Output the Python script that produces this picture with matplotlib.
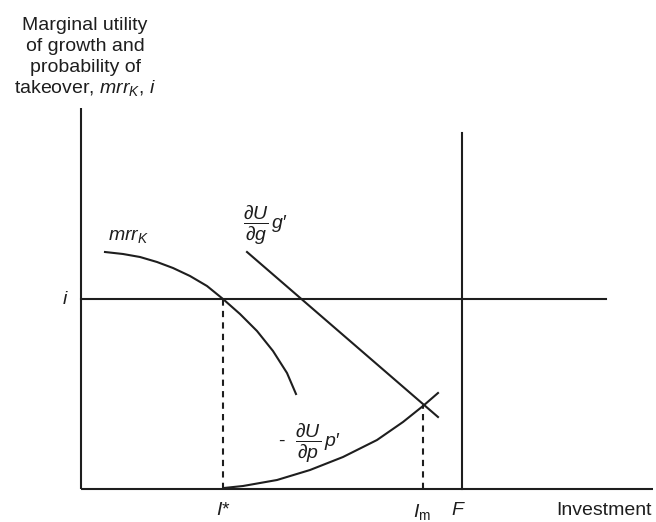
import matplotlib
matplotlib.use("Agg")
import matplotlib.pyplot as plt
import numpy as np

plt.rcParams['font.family'] = ['Liberation Sans', 'DejaVu Sans']
plt.rcParams['mathtext.fontset'] = 'custom'
plt.rcParams['mathtext.rm'] = 'Liberation Sans'
plt.rcParams['mathtext.it'] = 'Liberation Sans:italic'
plt.rcParams['mathtext.bf'] = 'Liberation Sans:bold'

# axis extents (investment, utility) in drawing units
x_max = 572
y_max = 381
interest = 190          # level of i
I_star = 142
I_m = 342
F = 381
F_top = 356
i_right = 525

# mrr_K curve
mrr_x = [24, 42, 59, 76, 92, 109, 126, 142, 159, 176, 192, 206, 215]
mrr_y = [237, 235, 232, 227, 221, 213, 203, 190, 175, 158, 138, 116, 95]

# dU/dg g' line
g_x = [166, 357]
g_y = [237, 72]

# -dU/dp p' curve
p_x = [143, 162, 196, 229, 262, 296, 322, 342, 357]
p_y = [1, 3, 9, 19, 32, 49, 67, 83, 96]

fig = plt.figure(figsize=(6.56, 5.22), dpi=100)
ax = fig.add_axes([0, 0, 1, 1])
ax.set_xlim(-81, 575)
ax.set_ylim(-33, 489)
ax.axis('off')

ink = '#1e1e1e'
lw = 1.5
# axes
ax.plot([0, x_max], [0, 0], color=ink, lw=lw, solid_capstyle='butt')
ax.plot([0, 0], [0, y_max], color=ink, lw=lw, solid_capstyle='butt')
# i line and F line
ax.plot([0, i_right], [interest, interest], color=ink, lw=lw)
ax.plot([F, F], [0, F_top], color=ink, lw=lw)

# curves
ax.plot(mrr_x, mrr_y, color=ink, lw=lw)
ax.plot(g_x, g_y, color=ink, lw=lw)
ax.plot(p_x, p_y, color=ink, lw=lw)

# dashed drop lines
ax.plot([I_star, I_star], [0, interest], color=ink, lw=lw, ls=(0, (3, 2.5)))
ax.plot([I_m, I_m], [0, 84], color=ink, lw=lw, ls=(0, (3, 2.5)))

fs = 14
# y label
ylab = ['Marginal utility', 'of growth and', 'probability of',
        r'takeover, $mrr_K$, $i$']
for k, s in enumerate(ylab):
    ax.text(4, 459 - 21 * k, s, ha='center', va='baseline', fontsize=fs, color=ink)

ax.text(-16, interest, r'$i$', ha='center', va='center', fontsize=fs, color=ink)
ax.text(27, 249, r'$mrr_K$', ha='left', va='baseline', fontsize=fs, color=ink)
ax.text(162, 264, r'$\dfrac{\partial U}{\partial g}\,g$′', ha='left', va='center',
        fontsize=fs, color=ink)
ax.text(197, 46, r'-  $\dfrac{\partial U}{\partial p}\,p$′', ha='left', va='center',
        fontsize=fs, color=ink)

# x labels
ax.text(I_star, -13, r'$I$*', ha='center', va='top', fontsize=fs, color=ink)
ax.text(I_m - 1, -13, r'$I_{\rm m}$', ha='center', va='top', fontsize=fs, color=ink)
ax.text(F - 4, -13, r'$F$', ha='center', va='top', fontsize=fs, color=ink)
ax.text(x_max - 1, -13, 'Investment', ha='right', va='top', fontsize=fs, color=ink)

fig.savefig('out.png', dpi=100)
